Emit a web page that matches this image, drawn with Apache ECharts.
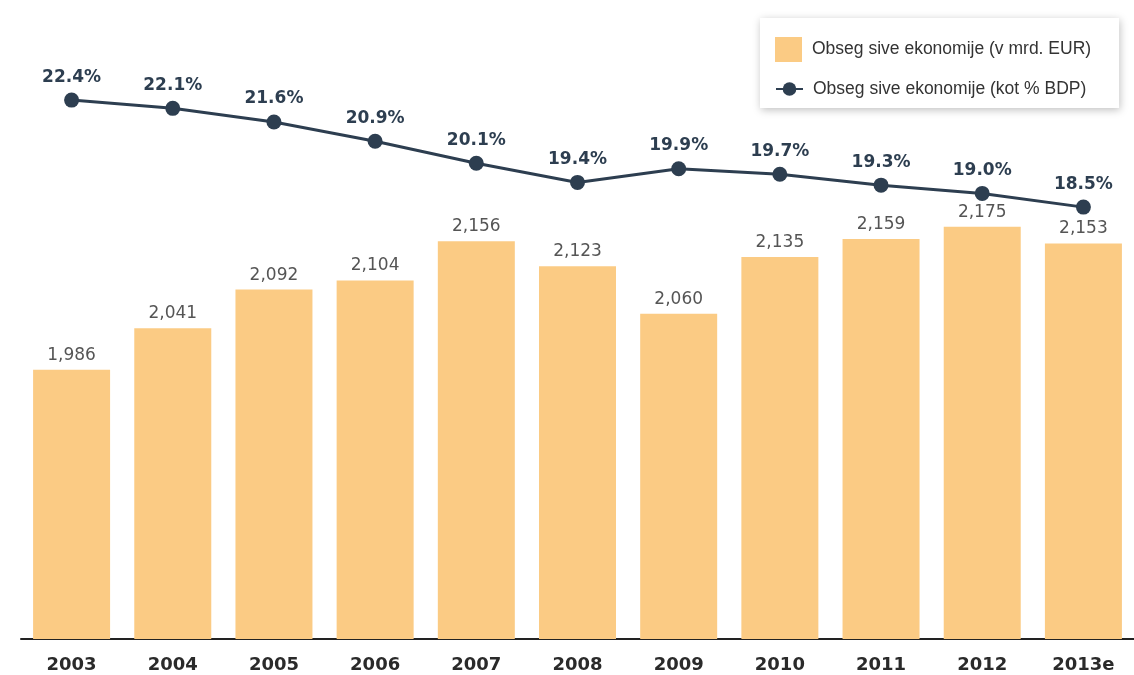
<!DOCTYPE html>
<html>
<head>
<meta charset="utf-8">
<script src="https://cdn.jsdelivr.net/npm/echarts@6/dist/echarts.min.js"></script>
<style>html,body{margin:0;padding:0;background:#fff}#c{width:1134px;height:675px}</style>
</head>
<body>
<div id="c"></div>
<script>
const categories = ['2003','2004','2005','2006','2007','2008','2009','2010','2011','2012','2013e'];
const volumeBn = [1986, 2041, 2092, 2104, 2156, 2123, 2060, 2135, 2159, 2175, 2153];
const sharePct = [22.4, 22.1, 21.6, 20.9, 20.1, 19.4, 19.9, 19.7, 19.3, 19.0, 18.5];
const seriesNames = ['Obseg sive ekonomije (v mrd. EUR)', 'Obseg sive ekonomije (kot % BDP)'];

const legendText = { fontFamily: 'Liberation Sans, Arial', fontSize: 17.5, color: '#333', padding: [0, 0, 0, 5] };

const chart = echarts.init(document.getElementById('c'));
chart.setOption({
  animation: false,
  backgroundColor: '#fff',
  grid: { left: 21, right: 0, top: 37, bottom: 36 },
  legend: [
    {
      orient: 'vertical',
      left: 760, top: 18,
      padding: [19, 28, 46, 15],
      itemWidth: 27, itemHeight: 25,
      backgroundColor: '#fff',
      shadowBlur: 8, shadowColor: 'rgba(0,0,0,0.25)', shadowOffsetX: 1, shadowOffsetY: 2,
      textStyle: legendText,
      data: [{ name: seriesNames[0], icon: 'rect' }]
    },
    {
      orient: 'vertical',
      left: 775, top: 80,
      padding: 0,
      itemWidth: 27, itemHeight: 17,
      textStyle: legendText,
      data: [{ name: seriesNames[1] }]
    }
  ],
  xAxis: {
    type: 'category',
    data: categories,
    axisLine: { lineStyle: { color: '#222', width: 2 } },
    axisTick: { show: false },
    axisLabel: { fontFamily: 'DejaVu Sans', fontWeight: 'bold', fontSize: 18, color: '#2a2a2a', margin: 17 }
  },
  yAxis: [
    { type: 'value', min: 1630, max: 2426, show: false, splitLine: { show: false } },
    { type: 'value', min: 2.76, max: 24.7, show: false, splitLine: { show: false } }
  ],
  series: [
    {
      name: seriesNames[0],
      type: 'bar',
      data: volumeBn,
      barWidth: 77,
      itemStyle: { color: '#fbcb84' },
      label: {
        show: true, position: 'top', distance: 6,
        fontFamily: 'DejaVu Sans', fontSize: 17, color: '#555',
        formatter: p => p.value.toLocaleString('en-US')
      }
    },
    {
      name: seriesNames[1],
      type: 'line',
      yAxisIndex: 1,
      data: sharePct,
      symbol: 'circle',
      symbolSize: 15,
      lineStyle: { color: '#2d3e50', width: 3 },
      itemStyle: { color: '#2d3e50' },
      label: {
        show: true, position: 'top', distance: 7,
        fontFamily: 'DejaVu Sans', fontWeight: 'bold', fontSize: 17, color: '#2d3e50',
        formatter: p => p.value.toFixed(1) + '%'
      }
    }
  ]
});
</script>
</body>
</html>
